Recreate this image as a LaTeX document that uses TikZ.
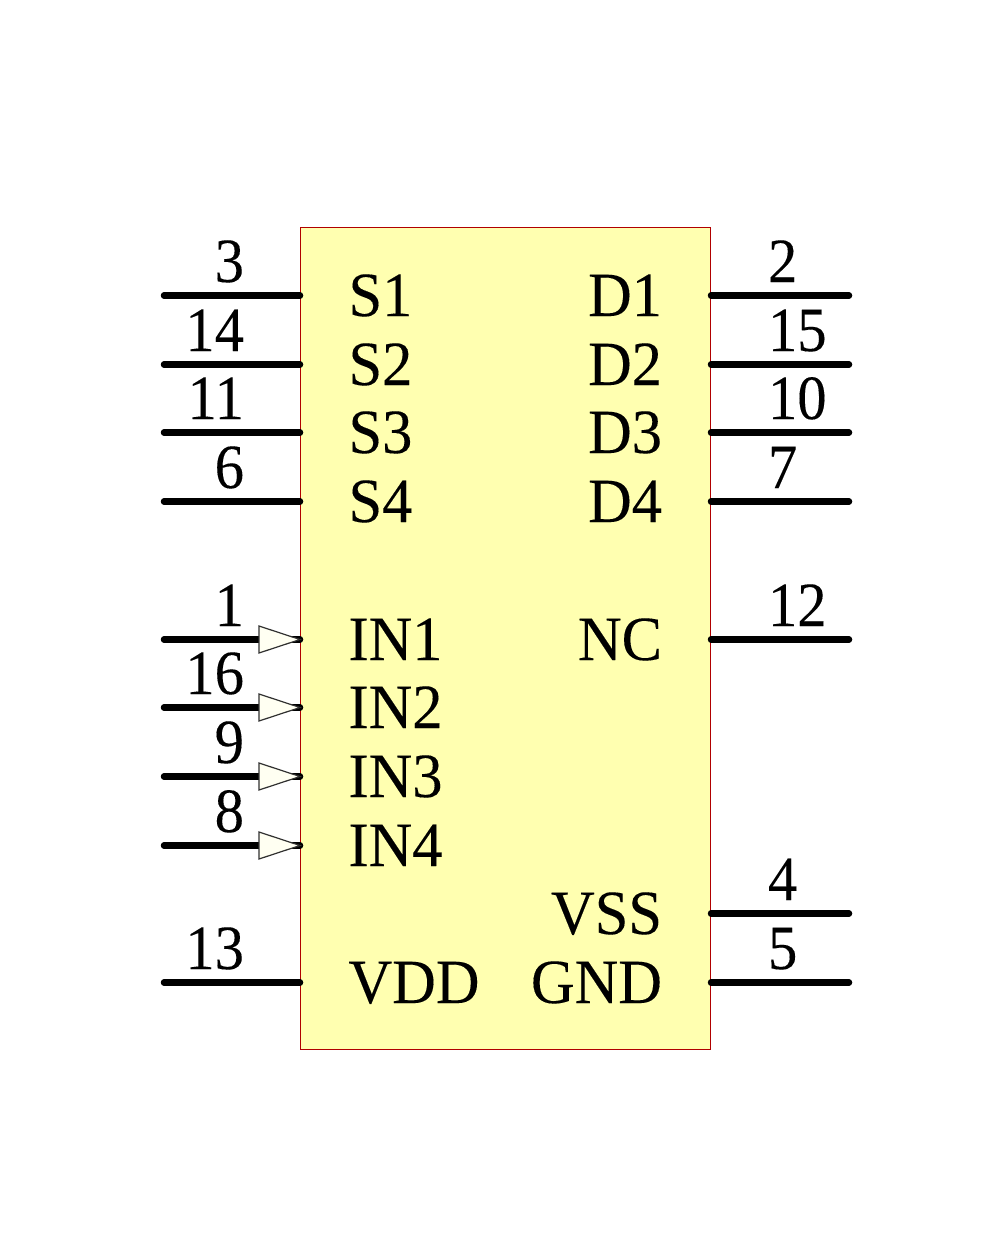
\documentclass[tikz,border=0pt]{standalone}
\usepackage{fontspec}
\setmainfont[FakeStretch=0.96,FakeBold=0.15]{Liberation Serif}
\newfontfamily\numfont[FakeStretch=0.93,FakeBold=0.15]{Liberation Serif}
\definecolor{bodyfill}{HTML}{FFFFB0}
\definecolor{bodyline}{HTML}{B00000}
\definecolor{arrowfill}{HTML}{FFFFF2}
\definecolor{arrowline}{HTML}{303030}
\tikzset{
  bodybox/.style={draw=bodyline,fill=bodyfill,line width=1.2pt},
  pinline/.style={draw=black,line width=6.5pt,line cap=round},
  inmark/.style={draw=arrowline,fill=arrowfill,line width=1.2pt,line join=miter},
  lbl/.style={font=\fontsize{63pt}{63pt}\selectfont,inner sep=0pt,outer sep=0pt},
  numlbl/.style={font=\fontsize{63pt}{63pt}\selectfont\numfont,inner sep=0pt,outer sep=0pt},
  sigL/.style={lbl,anchor=base west},
  sigR/.style={lbl,anchor=base east},
  numL/.style={numlbl,anchor=base east},
  numR/.style={numlbl,anchor=base west},
}
\begin{document}
\begin{tikzpicture}[x=1pt,y=-1pt]
\useasboundingbox (0,0) rectangle (1000,1250);
\fill[white] (0,0) rectangle (1000,1250);
\coordinate (bodyNW) at (300.5,227.5);
\coordinate (bodySE) at (710.5,1049.5);
\path[bodybox] (bodyNW) rectangle (bodySE);
% left side pins: signal / number / y
\foreach \sig/\num/\y in {S1/3/295,S2/14/364,S3/11/432,S4/6/501,IN1/1/639,IN2/16/707,IN3/9/776,IN4/8/845,VDD/13/982}{
  \coordinate (outer\sig) at (164,\y+0.5);
  \coordinate (inner\sig) at (300,\y+0.5);
  \draw[pinline] (outer\sig) -- (inner\sig);
  \node[sigL] (sig\sig) at (348.5,\y+21) {\sig};
  \node[numL] (num\sig) at (244,\y-13) {\num};
}
% right side pins
\foreach \sig/\num/\y in {D1/2/295,D2/15/364,D3/10/432,D4/7/501,NC/12/639,VSS/4/913,GND/5/982}{
  \coordinate (outer\sig) at (849,\y+0.5);
  \coordinate (inner\sig) at (711,\y+0.5);
  \draw[pinline] (inner\sig) -- (outer\sig);
  \node[sigR] (sig\sig) at (662,\y+21) {\sig};
  \node[numR] (num\sig) at (768,\y-13) {\num};
}
% input markers
\foreach \sig in {IN1,IN2,IN3,IN4}{
  \draw[inmark] ([shift={(259,-13.5)}]outer\sig -| 0,0) -- ([shift={(300,0)}]outer\sig -| 0,0) -- ([shift={(259,13.5)}]outer\sig -| 0,0) -- cycle;
}
\end{tikzpicture}
\end{document}
